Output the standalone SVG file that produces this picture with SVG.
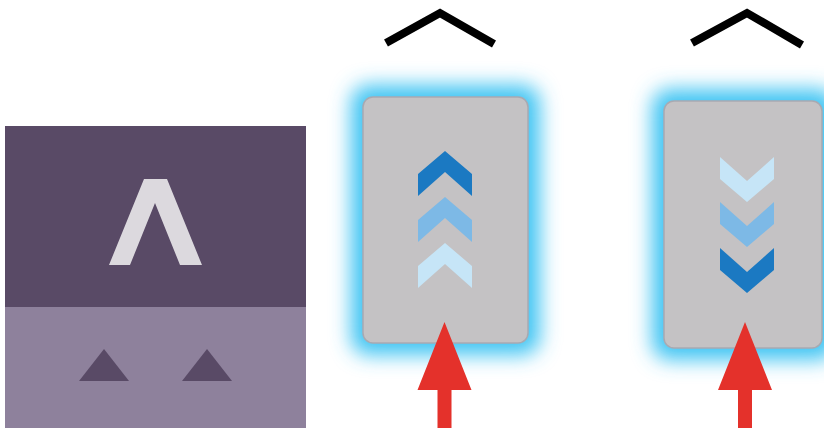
<svg xmlns="http://www.w3.org/2000/svg" width="824" height="428" viewBox="0 0 824 428">
<defs>
<filter id="glow" x="-50%" y="-50%" width="200%" height="200%">
<feGaussianBlur stdDeviation="10"/>
</filter>
<style>
.dark{fill:#594a66}
.light{fill:#8e819c}
.card{fill:#c4c2c4;stroke:#a9a9b1;stroke-width:1.5}
.halo{fill:#3fc4f3;filter:url(#glow)}
.cap{fill:none;stroke:#000;stroke-width:8;stroke-linejoin:miter}
.c1{fill:#1b79c2}
.c2{fill:#7db9e6}
.c3{fill:#c6e5f7}
.red{fill:#e4312b}
</style>
<polygon id="chevUp" points="0,0 27,23 27,45 0,21 -27,45 -27,23"/>
<polygon id="chevDown" points="0,0 27,-23 27,-45 0,-21 -27,-45 -27,-23"/>
<path id="redArrow" d="M0,0 L27,68 L7,68 L7,110 L-7,110 L-7,68 L-27,68 Z"/>
</defs>
<rect width="824" height="428" fill="#ffffff"/>
<g id="panel-left">
<rect class="dark" x="5" y="126" width="301" height="181"/>
<rect class="light" x="5" y="307" width="301" height="121"/>
<polygon points="144,179 167,179 202,265 180,265 155,203 130,265 109,265" fill="#dcd9de"/>
<polygon class="dark" points="104,349 129,381 79,381"/>
<polygon class="dark" points="207,349 232,381 182,381"/>
</g>
<g id="panel-middle">
<polyline class="cap" points="386,43 440,13 494,44"/>
<rect class="halo" x="351" y="85" width="189" height="270" rx="18"/>
<rect class="card" x="363" y="97" width="165" height="246" rx="10"/>
<use href="#chevUp" class="c1" x="445" y="151"/>
<use href="#chevUp" class="c2" x="445" y="197"/>
<use href="#chevUp" class="c3" x="445" y="243"/>
</g>
<g id="panel-right">
<polyline class="cap" points="692,43 747,13 802,45"/>
<rect class="halo" x="652" y="89" width="184" height="271" rx="18"/>
<rect class="card" x="664" y="101" width="158" height="247" rx="10"/>
<use href="#chevDown" class="c3" x="747" y="202"/>
<use href="#chevDown" class="c2" x="747" y="247"/>
<use href="#chevDown" class="c1" x="747" y="293"/>
</g>
<g id="connectors">
<use href="#redArrow" class="red" x="444.5" y="322"/>
<use href="#redArrow" class="red" x="745" y="322"/>
</g>
</svg>
